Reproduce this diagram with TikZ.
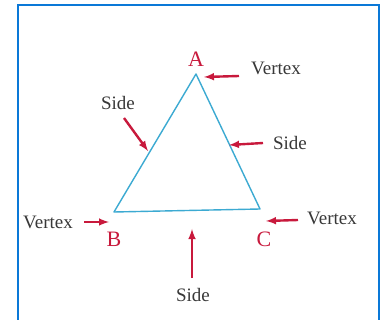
\documentclass[tikz,border=0pt]{standalone}
\usepackage{fontspec}
\setmainfont{Liberation Serif}
\usepackage{tikz}
\usetikzlibrary{arrows,calc}
\definecolor{frameblue}{RGB}{10,120,215}
\definecolor{sideblue}{RGB}{60,170,210}
\definecolor{markred}{RGB}{200,25,60}
\tikzset{
  word/.style={font=\fontsize{19}{21}\selectfont,text=black!78},
  letter/.style={font=\fontsize{22}{24}\selectfont,text=markred},
  pointer/.style={-latex,draw=markred,line width=2.4pt},
}

\begin{document}
\begin{tikzpicture}[x=1pt,y=-1pt]
      \useasboundingbox (0,0) rectangle (385,320);
      \fill[white] (0,0) rectangle (385,320);
      \draw[frameblue,line width=2.6pt] (18,5) rectangle (379,330);
      % corners of the triangle
      \coordinate (vA) at (196,74);
      \coordinate (vB) at (114,212);
      \coordinate (vC) at (260,209);
      \draw[sideblue,line width=1.4pt,line join=round] (vA) -- (vB) -- (vC) -- cycle;
      % letters
      \node[letter] (A) at (196,59) {A};
      \node[letter] (B) at (114,239) {B};
      \node[letter] (C) at (264,239) {C};
      % words
      \node[word] (vtxA) at (276,68) {Vertex};
      \node[word] (vtxB) at (48,222) {Vertex};
      \node[word] (vtxC) at (332,218) {Vertex};
      \node[word] (sideL) at (118,103) {Side};
      \node[word] (sideR) at (290,143) {Side};
      \node[word] (sideD) at (193,295) {Side};
      % arrow ends
      \coordinate (tA) at (239,76);
      \coordinate (hA) at (204,77);
      \coordinate (tB) at (84,222);
      \coordinate (hB) at (109,222);
      \coordinate (tC) at (298,220);
      \coordinate (hC) at (266,221);
      \coordinate (tL) at (124,118);
      \coordinate (hL) at (148,151);
      \coordinate (tR) at (263,143);
      \coordinate (hR) at (229,145);
      \coordinate (tD) at (192,278);
      \coordinate (hD) at (192,229);
      \draw[pointer] (tA) -- (hA);
      \draw[pointer] (tB) -- (hB);
      \draw[pointer] (tC) -- (hC);
      \draw[pointer] (tL) -- (hL);
      \draw[pointer] (tR) -- (hR);
      \draw[pointer] (tD) -- (hD);
    \end{tikzpicture}
\end{document}
